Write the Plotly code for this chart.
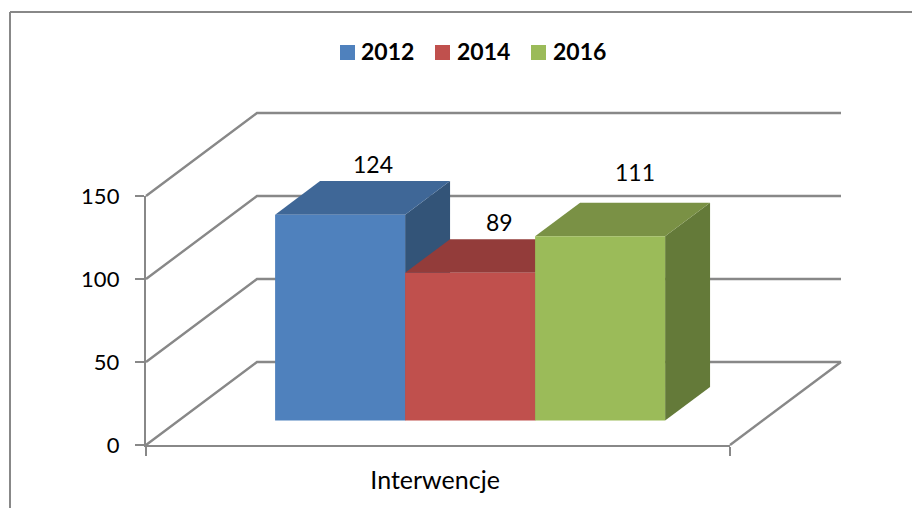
import plotly.graph_objects as go

# Data
years = ["2012", "2014", "2016"]
values = [124, 89, 111]
category = "Interwencje"
y_ticks = [0, 50, 100, 150]
colors = ["#4F81BD", "#C0504D", "#9BBB59"]
top_colors = ["#3F6797", "#933C3A", "#7A9145"]
side_colors = ["#335478", "#7D3432", "#647A39"]
label_shift_x = [33, 29, 35]
label_shift_y = [18, 18, 31]

# Layout of the oblique projection
W, H = 912, 508
L, R, T, B = 146, 730, 196, 445
PX_X = R - L
PX_Y = (B - T) / 150
DX = 111 / PX_X
DY = 50
BAR_W = 130 / PX_X
BAR_X0 = 0.165
D_FRONT = 0.295
D_BACK = 0.7
GRID = "#888888"
LINE_W = 2.4
FONT = "Lato, Carlito, Calibri, sans-serif"


def proj(x, v, d):
    return x + d * DX, v + d * DY


def poly(points):
    xs, ys = zip(*[proj(*p) for p in points])
    return list(xs) + [xs[0]], list(ys) + [ys[0]]


fig = go.Figure()

# Walls and floor (full-page hidden subplot, drawn first)
for t in y_ticks:
    x0, y0 = proj(0, t, 0)
    x1, y1 = proj(0, t, 1)
    x2, y2 = proj(1, t, 1)
    fig.add_trace(go.Scatter(x=[x0, x1, x2], y=[y0, y1, y2], mode="lines",
                             line=dict(color=GRID, width=LINE_W), showlegend=False, hoverinfo="skip"))
x0, y0 = proj(1, 0, 0)
x1, y1 = proj(1, 0, 1)
fig.add_trace(go.Scatter(x=[x0, x1], y=[y0, y1], mode="lines",
                         line=dict(color=GRID, width=LINE_W), showlegend=False, hoverinfo="skip"))

# Side and top faces of the bars
for i, v in enumerate(values):
    a = BAR_X0 + i * BAR_W
    b = a + BAR_W
    sx, sy = poly([(b, 0, D_FRONT), (b, 0, D_BACK), (b, v, D_BACK), (b, v, D_FRONT)])
    fig.add_trace(go.Scatter(x=sx, y=sy, mode="lines", fill="toself", fillcolor=side_colors[i],
                             line=dict(width=0, color=side_colors[i]),
                             showlegend=False, hoverinfo="skip"))
    tx, ty = poly([(a, v, D_FRONT), (a, v, D_BACK), (b, v, D_BACK), (b, v, D_FRONT)])
    fig.add_trace(go.Scatter(x=tx, y=ty, mode="lines", fill="toself", fillcolor=top_colors[i],
                             line=dict(width=0, color=top_colors[i]),
                             showlegend=False, hoverinfo="skip"))

# Front faces: real bars on the real axes subplot, drawn above the faces behind
for i, v in enumerate(values):
    cx, base = proj(BAR_X0 + (i + 0.5) * BAR_W, 0, D_FRONT)
    fig.add_trace(go.Bar(x=[cx], y=[v], base=[base], width=[BAR_W],
                         name=years[i], marker=dict(color=colors[i], line=dict(width=0)),
                         xaxis="x2", yaxis="y2", showlegend=False))

annotations = []
for i, v in enumerate(values):
    x, y = proj(BAR_X0 + (i + 0.5) * BAR_W, v, D_FRONT)
    annotations.append(dict(x=x, y=y, xref="x", yref="y", text=str(v), showarrow=False,
                            xshift=label_shift_x[i], yshift=33 + label_shift_y[i],
                            yanchor="middle", xanchor="center",
                            font=dict(family=FONT, size=23, color="#000000")))


def px(x):
    return x / W


def py(y):
    return 1 - y / H


shapes = [
    dict(type="line", xref="paper", yref="paper", x0=px(10), x1=px(W), y0=py(12), y1=py(12),
         line=dict(color=GRID, width=2)),
    dict(type="line", xref="paper", yref="paper", x0=px(10), x1=px(10), y0=py(12), y1=py(H),
         line=dict(color=GRID, width=2)),
]
swatch_x = [340, 435, 531]
text_x = [361, 457, 553]
for i, year in enumerate(years):
    shapes.append(dict(type="rect", xref="paper", yref="paper", x0=px(swatch_x[i]), x1=px(swatch_x[i] + 15),
                       y0=py(45), y1=py(60), fillcolor=colors[i], line=dict(width=0)))
    annotations.append(dict(x=px(text_x[i]), y=py(52), xref="paper", yref="paper", text=f"<b>{year}</b>",
                            showarrow=False, xanchor="left", yanchor="middle", xshift=-2, yshift=1,
                            font=dict(family=FONT, size=23, color="#000000")))

fig.update_layout(
    width=W, height=H, autosize=False,
    margin=dict(l=0, r=0, t=0, b=0, pad=0, autoexpand=False),
    paper_bgcolor="white", plot_bgcolor="rgba(0,0,0,0)",
    showlegend=False, barmode="overlay",
    font=dict(family=FONT, size=22, color="#000000"),
    shapes=shapes, annotations=annotations,
    xaxis=dict(domain=[0, 1], range=[-L / PX_X, (W - L) / PX_X], visible=False, fixedrange=True, automargin=False),
    yaxis=dict(domain=[0, 1], range=[(B - H) / PX_Y, B / PX_Y], visible=False, fixedrange=True, automargin=False),
    xaxis2=dict(domain=[px(L), px(R)], anchor="y2", range=[0, 1], showgrid=False, zeroline=False, automargin=False,
                showline=True, linecolor=GRID, linewidth=LINE_W,
                tickmode="array", tickvals=[0.495], ticktext=[category], ticks="", ticklabelstandoff=12,
                tickfont=dict(family=FONT, size=25, color="#000000"),
                minor=dict(tickmode="array", tickvals=[0, 1], ticks="outside", ticklen=9, tickwidth=2, tickcolor=GRID)),
    yaxis2=dict(domain=[py(B), py(T)], anchor="x2", range=[0, 150], showgrid=False, zeroline=False, automargin=False,
                showline=True, linecolor=GRID, linewidth=LINE_W,
                tickmode="array", tickvals=y_ticks, ticks="outside", ticklen=9, tickwidth=2, tickcolor=GRID,
                ticklabelstandoff=11),
)

fig.write_html("out.html", config=dict(displayModeBar=False),
               post_script="document.body.style.margin='0';")
